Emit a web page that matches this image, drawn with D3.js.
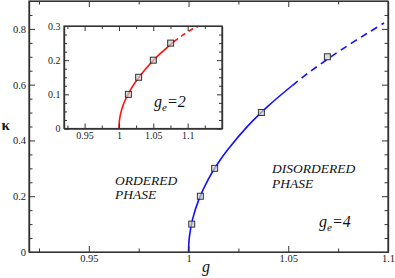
<!DOCTYPE html>
<html>
<head>
<meta charset="utf-8">
<script src="https://cdn.jsdelivr.net/npm/d3@7"></script>
<style>
  body { margin: 0; background: #fff; }
  svg { display: block; }
  .ax path { stroke: #333; stroke-width: 1.2; }
  .ax line { stroke: #333; stroke-width: 1; }
  .ax text { fill: #222; }
</style>
</head>
<body>
<svg id="chart" width="395" height="278" font-family="'Liberation Serif', serif"></svg>
<script>
// main plot, g_e = 4 (blue)
const blueSolidG = [1.0, 1.0001, 1.0005, 1.002, 1.005, 1.01, 1.015, 1.02, 1.03, 1.04, 1.052]
const blueSolidK = [0, 0.026, 0.059, 0.117, 0.185, 0.262, 0.321, 0.370, 0.454, 0.524, 0.597]
const blueDashG = [1.052, 1.06, 1.07, 1.08, 1.09, 1.098]
const blueDashK = [0.597, 0.642, 0.693, 0.741, 0.786, 0.821]
const blueMarkG = [1.0016, 1.0059, 1.0131, 1.0365, 1.0696]
const blueMarkK = [0.1, 0.2, 0.3, 0.5, 0.7]

// inset, g_e = 2 (red)
const redSolidG = [1.0, 1.0002, 1.001, 1.003, 1.006, 1.01, 1.02, 1.03, 1.04, 1.05, 1.06, 1.07, 1.08]
const redSolidK = [0, 0.013, 0.028, 0.048, 0.068, 0.087, 0.124, 0.152, 0.177, 0.199, 0.219, 0.237, 0.254]
const redDashG = [1.08, 1.09, 1.1, 1.11, 1.117]
const redDashK = [0.254, 0.269, 0.283, 0.294, 0.300]
const redMarkG = [1.0137, 1.0287, 1.05, 1.0753]
const redMarkK = [0.1, 0.15, 0.2, 0.25]

// ticks
const mainXTicks = [0.95, 1, 1.05, 1.1]
const mainXMinor = [0.925, 0.975, 1.025, 1.075]
const mainYTicks = [0, 0.2, 0.4, 0.6, 0.8]
const mainYMinor = [0.05, 0.1, 0.15, 0.25, 0.3, 0.35, 0.45, 0.5, 0.55, 0.65, 0.7, 0.75, 0.85]
const insetXTicks = [0.95, 1, 1.05, 1.1]
const insetXMinor = [0.925, 0.975, 1.025, 1.075, 1.125]
const insetYTicks = [0, 0.1, 0.2, 0.3]
const insetYMinor = [0.025, 0.05, 0.075, 0.125, 0.15, 0.175, 0.225, 0.25, 0.275]

const SERIF = "'Liberation Serif', serif"
const svg = d3.select('#chart')

function zip(gs, ks) {
  return gs.map((g, i) => ({ g, k: ks[i] }))
}

function frame(g, x, y, xt, xm, yt, ym, big, small, fs, pad) {
  const [x0, x1] = x.range()
  const [y0, y1] = y.range()
  const fmt = d => String(d)

  g.append('g').attr('class', 'ax')
    .attr('transform', `translate(0,${y0})`)
    .call(d3.axisBottom(x).tickValues(xt).tickSize(-big).tickSizeOuter(0).tickPadding(pad).tickFormat(fmt))
    .attr('font-size', fs).attr('font-family', SERIF)
  g.append('g').attr('class', 'ax')
    .attr('transform', `translate(0,${y0})`)
    .call(d3.axisBottom(x).tickValues(xm).tickSize(-small).tickSizeOuter(0).tickFormat(''))
  g.append('g').attr('class', 'ax')
    .attr('transform', `translate(0,${y1})`)
    .call(d3.axisTop(x).tickValues(xt).tickSize(-big).tickSizeOuter(0).tickFormat(''))
  g.append('g').attr('class', 'ax')
    .attr('transform', `translate(0,${y1})`)
    .call(d3.axisTop(x).tickValues(xm).tickSize(-small).tickSizeOuter(0).tickFormat(''))

  g.append('g').attr('class', 'ax')
    .attr('transform', `translate(${x0},0)`)
    .call(d3.axisLeft(y).tickValues(yt).tickSize(-big).tickSizeOuter(0).tickPadding(pad).tickFormat(fmt))
    .attr('font-size', fs).attr('font-family', SERIF)
  g.append('g').attr('class', 'ax')
    .attr('transform', `translate(${x0},0)`)
    .call(d3.axisLeft(y).tickValues(ym).tickSize(-small).tickSizeOuter(0).tickFormat(''))
  g.append('g').attr('class', 'ax')
    .attr('transform', `translate(${x1},0)`)
    .call(d3.axisRight(y).tickValues(yt).tickSize(-big).tickSizeOuter(0).tickFormat(''))
  g.append('g').attr('class', 'ax')
    .attr('transform', `translate(${x1},0)`)
    .call(d3.axisRight(y).tickValues(ym).tickSize(-small).tickSizeOuter(0).tickFormat(''))

  g.append('rect')
    .attr('x', x0).attr('y', y1)
    .attr('width', x1 - x0).attr('height', y0 - y1)
    .attr('fill', 'none').attr('stroke', '#333').attr('stroke-width', 1.2)
}

function curves(g, x, y, solid, dashed, marks, color, dash) {
  const line = d3.line().x(d => x(d.g)).y(d => y(d.k)).curve(d3.curveCatmullRom)
  g.append('path').datum(solid)
    .attr('d', line).attr('fill', 'none')
    .attr('stroke', color).attr('stroke-width', 1.6)
  g.append('path').datum(dashed)
    .attr('d', line).attr('fill', 'none')
    .attr('stroke', color).attr('stroke-width', 1.6)
    .attr('stroke-dasharray', dash)
  g.selectAll(null).data(marks).join('rect')
    .attr('x', d => x(d.g) - 3).attr('y', d => y(d.k) - 3)
    .attr('width', 6).attr('height', 6)
    .attr('fill', '#ccc').attr('fill-opacity', 0.7)
    .attr('stroke', '#222').attr('stroke-width', 0.9)
}

// main
const x = d3.scaleLinear().domain([0.92, 1.1]).range([29, 388])
const y = d3.scaleLinear().domain([0, 0.9]).range([252, 1])
const main = svg.append('g')

curves(main, x, y, zip(blueSolidG, blueSolidK), zip(blueDashG, blueDashK), zip(blueMarkG, blueMarkK), '#1010ff', '7,5')
frame(main, x, y, mainXTicks, mainXMinor, mainYTicks, mainYMinor, 6, 3.5, 10.5, 3)

// inset
const xi = d3.scaleLinear().domain([0.92, 1.15]).range([64, 222])
const yi = d3.scaleLinear().domain([0, 0.3]).range([128.5, 26])
const inset = svg.append('g')
inset.append('rect')
  .attr('x', 64).attr('y', 26).attr('width', 158).attr('height', 102.5)
  .attr('fill', '#fff')
const clip = inset.append('clipPath').attr('id', 'ic')
clip.append('rect').attr('x', 64).attr('y', 26).attr('width', 158).attr('height', 102.5)
const insetPlot = inset.append('g').attr('clip-path', 'url(#ic)')
curves(insetPlot, xi, yi, zip(redSolidG, redSolidK), zip(redDashG, redDashK), zip(redMarkG, redMarkK), '#ff1010', '5,4')
frame(inset, xi, yi, insetXTicks, insetXMinor, insetYTicks, insetYMinor, 5, 3, 10, 3.5)

// labels
const txt = (px, py, s, size) => svg.append('text')
  .attr('x', px).attr('y', py).attr('font-size', size).attr('font-family', SERIF)
  .attr('font-style', 'italic').attr('fill', '#111').text(s)

txt(115, 185, 'ORDERED', 13.5)
txt(115, 199, 'PHASE', 13.5)
txt(272, 173, 'DISORDERED', 13.5)
txt(272, 187.5, 'PHASE', 13.5)
txt(202, 272, 'g', 16)
svg.append('text').attr('x', 1.5).attr('y', 129.5).attr('font-family', SERIF)
  .attr('font-size', 15).attr('font-weight', 'bold').attr('fill', '#111').text('κ')

function geLabel(px, py, val) {
  const t = svg.append('text').attr('x', px).attr('y', py).attr('font-family', SERIF)
    .attr('font-size', 16).attr('font-style', 'italic').attr('fill', '#111')
  t.append('tspan').text('g')
  t.append('tspan').attr('font-size', 11).attr('dy', 4).text('e')
  t.append('tspan').attr('dy', -4).text('=' + val)
}
geLabel(319, 226.5, 4)
geLabel(154, 107, 2)
</script>
</body>
</html>
